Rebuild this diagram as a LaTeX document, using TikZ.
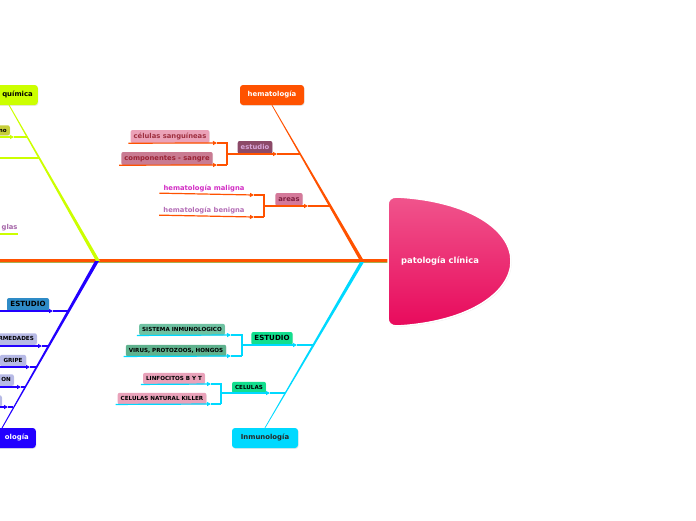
\documentclass[tikz,border=0pt]{standalone}
\usepackage{fontspec}
\setmainfont{DejaVu Sans}
\usetikzlibrary{arrows.meta,calc,shadows}

\newcommand{\fsz}[1]{\fontsize{#1}{#1}\selectfont}

\definecolor{hemaorange}{HTML}{FF5200}
\definecolor{headtop}{HTML}{F0548C}
\definecolor{headbot}{HTML}{E80A5C}
\definecolor{limeg}{HTML}{CCFF00}
\definecolor{spineolive}{HTML}{A8B050}
\definecolor{olivey}{HTML}{C6CE3A}
\definecolor{bluemain}{HTML}{2200FF}
\definecolor{cyanmain}{HTML}{00D9FF}
\definecolor{greentag}{HTML}{12DE8E}
\definecolor{tealtag}{HTML}{6FC2A2}
\definecolor{tealdark}{HTML}{5FB28E}
\definecolor{pinktag}{HTML}{E9A2BA}
\definecolor{lavtag}{HTML}{B7BAE6}
\definecolor{steeltag}{HTML}{2E8BC7}
\definecolor{mauvedark}{HTML}{8C4A68}
\definecolor{lilactxt}{HTML}{D7A6D9}
\definecolor{cellpink}{HTML}{EBA2B8}
\definecolor{cellred}{HTML}{9E3040}
\definecolor{comppink}{HTML}{C97B92}
\definecolor{compred}{HTML}{9A2436}
\definecolor{areapink}{HTML}{D4799A}
\definecolor{areared}{HTML}{7E2040}
\definecolor{maligcol}{HTML}{D22DC4}
\definecolor{benigcol}{HTML}{B46DB6}
\definecolor{glascol}{HTML}{A565A8}

\begin{document}
\begin{tikzpicture}[
    x=1pt, y=-1pt,
    mainbox/.style={
        rounded corners=3pt,
        minimum height=20pt,
        inner xsep=5pt,
        inner ysep=0pt,
        text height=5.3pt,
        text depth=1.6pt,
        font=\bfseries\fsz{6.9},
        drop shadow={opacity=0.18, shadow xshift=0.6pt, shadow yshift=-0.9pt}
    },
    tag/.style={
        rounded corners=2pt,
        minimum height=13pt,
        inner xsep=3pt,
        inner ysep=0pt,
        text height=5.1pt,
        text depth=1.5pt,
        font=\bfseries\fsz{6.8},
        drop shadow={opacity=0.15, shadow xshift=0.5pt, shadow yshift=-0.7pt}
    },
    captag/.style={
        tag,
        minimum height=11.5pt,
        text height=4.1pt,
        text depth=0.7pt,
        font=\bfseries\fsz{5.6}
    },
    bigcap/.style={
        tag,
        minimum height=13pt,
        text height=5.2pt,
        text depth=0.4pt,
        font=\bfseries\fsz{7.1}
    },
    plain/.style={
        inner sep=1pt,
        font=\bfseries\fsz{6.8}
    },
    link/.style={line width=1.2pt},
    tip/.style={-{Triangle[length=4pt,width=4pt]}}
]

\useasboundingbox (0,0) rectangle (696,520);

% spine and head
\coordinate (spinestart) at (-5,261);
\coordinate (headwest) at (388,261);
\draw[spineolive, line width=4.4pt] (spinestart) -- (headwest);
\draw[hemaorange, line width=3pt] ([yshift=0.6pt]spinestart) -- ([yshift=0.6pt]headwest);

\shade[top color=headtop, bottom color=headbot, draw=white, line width=1.5pt,
       drop shadow={opacity=0.15, shadow xshift=0.8pt, shadow yshift=-1pt}]
    (388,205) .. controls (388,200) and (391,197) .. (397,197)
    .. controls (470,201) and (511,230) .. (511,261)
    .. controls (511,292) and (470,322) .. (397,326)
    .. controls (391,326) and (388,323) .. (388,318) -- cycle;
\node[text=white, font=\bfseries\fsz{8.4}] (head) at (440,261) {patología clínica};

% roots on the spine
\coordinate (hemaroot) at (362,261);
\coordinate (inmroot) at (362,262);
\coordinate (bioroot) at (98,261);
\coordinate (microot) at (97,261);

% hematologia
\node[mainbox, fill=hemaorange, text=white, minimum width=64pt] (hema) at (272,95) {hematología};
\fill[hemaorange] ($(hema.south)+(-0.4,0)$) -- ($(hema.south)+(0.4,0)$)
    -- ($(hemaroot)+(2,0)$) -- ($(hemaroot)+(-2,0)$) -- cycle;

\node[tag, fill=mauvedark, text=lilactxt] (estu) at (255,147.5) {estudio};
\node[tag, fill=cellpink, text=cellred] (cels) at (170,136.5) {células sanguíneas};
\node[tag, fill=comppink, text=compred] (comp) at (167,158.5) {componentes - sangre};
\node[tag, fill=areapink, text=areared] (area) at (289,199.5) {areas};
\node[plain, text=maligcol] (malig) at (204,188.5) {hematología maligna};
\node[plain, text=benigcol] (benig) at (204,210.5) {hematología benigna};

\coordinate (hemaA) at (300,154);
\coordinate (hemaB) at (330,206);

\draw[hemaorange, link, tip] ([xshift=-2pt]cels.south west) -- (217,143);
\draw[hemaorange, link] (217,143) -- (227,143) -- (227,165);
\draw[hemaorange, link, tip] ([xshift=-2pt]comp.south west) -- (217,165);
\draw[hemaorange, link] (217,165) -- (227,165);
\draw[hemaorange, link, tip] (227,154) -- (277,154);
\draw[hemaorange, link] (277,154) -- (hemaA);

\draw[hemaorange, link, tip] ([xshift=-3pt]malig.south west) -- (254,195);
\draw[hemaorange, link] (254,195) -- (264,195) -- (264,217);
\draw[hemaorange, link, tip] ([xshift=-3pt]benig.south west) -- (254,217);
\draw[hemaorange, link] (254,217) -- (264,217);
\draw[hemaorange, link, tip] (264,206) -- (308,206);
\draw[hemaorange, link] (308,206) -- (hemaB);

% inmunologia
\node[mainbox, fill=cyanmain, text=black!85, minimum width=66pt] (inmu) at (265,438) {Inmunología};
\fill[cyanmain] ($(inmu.north)+(-0.4,0)$) -- ($(inmu.north)+(0.4,0)$)
    -- ($(inmroot)+(2,0)$) -- ($(inmroot)+(-2,0)$) -- cycle;

\node[bigcap, fill=greentag] (inmest) at (272,338.5) {ESTUDIO};
\node[captag, fill=tealtag] (sist) at (182,329.5) {SISTEMA INMUNOLOGICO};
\node[captag, fill=tealdark] (viru) at (176,350.5) {VIRUS, PROTOZOOS, HONGOS};
\node[captag, fill=greentag] (celu) at (249,387.5) {CELULAS};
\node[captag, fill=pinktag] (linf) at (174,378.5) {LINFOCITOS B Y T};
\node[captag, fill=pinktag] (natk) at (162,398.5) {CELULAS NATURAL KILLER};

\coordinate (inmA) at (313,345);
\coordinate (inmB) at (285,393);

\draw[cyanmain, link, tip] ([xshift=-2pt]sist.south west) -- (231,335);
\draw[cyanmain, link] (231,335) -- (242,335) -- (242,356);
\draw[cyanmain, link, tip] ([xshift=-2pt]viru.south west) -- (231,356);
\draw[cyanmain, link] (231,356) -- (242,356);
\draw[cyanmain, link, tip] (242,345) -- (297,345);
\draw[cyanmain, link] (297,345) -- (inmA);

\draw[cyanmain, link, tip] ([xshift=-2pt]linf.south west) -- (211,384);
\draw[cyanmain, link] (211,384) -- (221,384) -- (221,404);
\draw[cyanmain, link, tip] ([xshift=-2pt]natk.south west) -- (211,404);
\draw[cyanmain, link] (211,404) -- (221,404);
\draw[cyanmain, link, tip] (221,393) -- (270,393);
\draw[cyanmain, link] (270,393) -- (inmB);

% bioquimica (cut at the left edge)
\node[mainbox, fill=limeg, text=black, anchor=east, text width=62pt, align=right] (bioq) at (38,95) {química};
\coordinate (biotop) at (9,105);
\fill[limeg] ($(biotop)+(-0.5,0)$) -- ($(biotop)+(0.5,0)$)
    -- ($(bioroot)+(2,0)$) -- ($(bioroot)+(-2,0)$) -- cycle;

\node[captag, fill=olivey, anchor=south east, minimum height=10pt, text width=30pt, align=right] (biono) at (10,135.5) {no};
\node[plain, text=glascol, anchor=south west] (glas) at (0.5,232) {glas};

\coordinate (bioA) at (27,137);
\coordinate (bioB) at (39,158);

\draw[limeg, link, tip] (-5,137) -- (14,137);
\draw[limeg, link] (14,137) -- (bioA);
\draw[limeg, link] (-5,158) -- (bioB);
\draw[limeg, link] (-5,234) -- (18,234);

% microbiologia (cut at the left edge)
\node[mainbox, fill=bluemain, text=white, anchor=east, text width=62pt, align=right, inner xsep=7pt] (micro) at (36,438) {ología};
\coordinate (mictop) at (2,428);
\fill[bluemain] ($(mictop)+(-0.5,0)$) -- ($(mictop)+(0.5,0)$)
    -- ($(microot)+(2,0)$) -- ($(microot)+(-2,0)$) -- cycle;

\node[bigcap, fill=steeltag, minimum width=42pt] (micest) at (28,304.5) {ESTUDIO};
\node[captag, fill=lavtag, anchor=south east, text width=40pt, align=right] (micenf) at (37,345) {RMEDADES};
\node[captag, fill=lavtag, minimum width=26pt] (micgri) at (13,360.5) {GRIPE};
\node[captag, fill=lavtag, anchor=south east, text width=20pt, align=right] (micon) at (14,386) {ON};
\node[captag, fill=lavtag, anchor=south east, minimum width=20pt] (micend) at (2,407) {};

\coordinate (micA) at (68,311);
\coordinate (micB) at (48,346);
\coordinate (micC) at (36,367);
\coordinate (micD) at (25,387);
\coordinate (micE) at (13,407);

\draw[bluemain, link, tip] (-5,311) -- (53,311);
\draw[bluemain, link] (53,311) -- (micA);
\draw[bluemain, link, tip] (-5,346) -- (42,346);
\draw[bluemain, link] (42,346) -- (micB);
\draw[bluemain, link, tip] (-5,367) -- (30,367);
\draw[bluemain, link] (30,367) -- (micC);
\draw[bluemain, link, tip] (-5,387) -- (21,387);
\draw[bluemain, link] (21,387) -- (micD);
\draw[bluemain, link, tip] (-5,407) -- (8,407);
\draw[bluemain, link] (8,407) -- (micE);

\end{tikzpicture}
\end{document}
